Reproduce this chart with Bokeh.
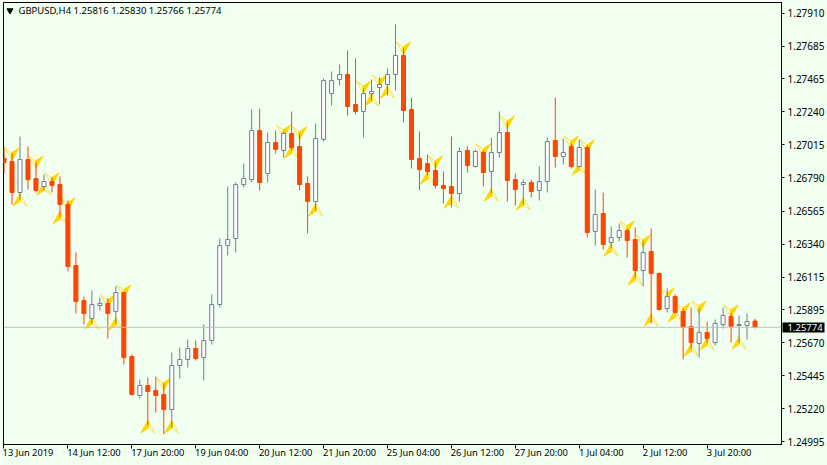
from bokeh.plotting import figure
from bokeh.models import Label, Span, FixedTicker, LinearAxis, ColumnDataSource, Range1d
from bokeh.embed import file_html
from bokeh.resources import INLINE

opens = [1.26922,1.26902,1.26691,1.26915,1.26786,1.26732,1.26766,1.26745,1.26609,1.26194,
 1.25956,1.25834,1.25922,1.25936,1.25881,1.26011,1.25575,1.25310,1.25378,1.25344,
 1.25317,1.25215,1.25514,1.25555,1.25630,1.25568,1.25684,1.25929,1.26330,1.26378,
 1.26745,1.26779,1.27113,1.26820,1.27031,1.26977,1.27092,1.27004,1.26752,1.26630,
 1.27052,1.27364,1.27460,1.27494,1.27290,1.27242,1.27364,1.27405,1.27426,1.27494,
 1.27623,1.27256,1.26922,1.26888,1.26841,1.26739,1.26732,1.26684,1.26977,1.26868,
 1.26963,1.26834,1.26963,1.27099,1.26779,1.26745,1.26759,1.26705,1.26766,1.27045,
 1.26936,1.27004,1.26868,1.26997,1.26426,1.26548,1.26351,1.26385,1.26432,1.26371,
 1.26160,1.26290,1.26140,1.25902,1.25983,1.25881,1.25779,1.25664,1.25739,1.25670,
 1.25793,1.25847,1.25786,1.25786,1.25816]
highs = [1.27004,1.26956,1.27072,1.27004,1.26895,1.26813,1.26793,1.26800,1.26637,1.26283,
 1.25983,1.26024,1.25977,1.25970,1.26052,1.26011,1.25589,1.25419,1.25432,1.25439,
 1.25392,1.25602,1.25636,1.25691,1.25684,1.25793,1.25997,1.26378,1.26732,1.26759,
 1.26888,1.27256,1.27262,1.27099,1.27113,1.27106,1.27242,1.27092,1.26800,1.27160,
 1.27467,1.27514,1.27562,1.27657,1.27603,1.27399,1.27460,1.27473,1.27535,1.27834,
 1.27671,1.27337,1.27106,1.26950,1.26895,1.26834,1.27072,1.26997,1.27004,1.26984,
 1.26977,1.27065,1.27242,1.27167,1.26820,1.26779,1.26779,1.26868,1.27065,1.27337,
 1.27058,1.27024,1.27052,1.27011,1.26711,1.26691,1.26460,1.26480,1.26446,1.26453,
 1.26364,1.26446,1.26147,1.26038,1.25997,1.25902,1.25909,1.25902,1.25813,1.25827,
 1.25909,1.25868,1.25854,1.25868,1.25830]
lows = [1.26820,1.26609,1.26643,1.26711,1.26691,1.26705,1.26691,1.26521,1.26154,1.25868,
 1.25793,1.25800,1.25888,1.25698,1.25800,1.25521,1.25310,1.25290,1.25106,1.25194,
 1.25045,1.25092,1.25426,1.25500,1.25548,1.25412,1.25657,1.25909,1.26262,1.26283,
 1.26725,1.26759,1.26705,1.26759,1.26956,1.26929,1.26977,1.26705,1.26412,1.26569,
 1.27038,1.27283,1.27419,1.27215,1.27222,1.27065,1.27317,1.27290,1.27351,1.27385,
 1.27167,1.26854,1.26705,1.26807,1.26718,1.26616,1.26589,1.26630,1.26827,1.26861,
 1.26732,1.26684,1.26929,1.26630,1.26602,1.26609,1.26657,1.26637,1.26691,1.26861,
 1.26881,1.26854,1.26861,1.26385,1.26330,1.26303,1.26310,1.26358,1.26249,1.26113,
 1.26052,1.25800,1.25888,1.25875,1.25868,1.25555,1.25630,1.25568,1.25670,1.25650,
 1.25766,1.25670,1.25670,1.25691,1.25766]
closes = [1.26895,1.26691,1.26915,1.26779,1.26705,1.26766,1.26739,1.26609,1.26188,1.25949,
 1.25868,1.25929,1.25936,1.25868,1.26011,1.25568,1.25317,1.25378,1.25337,1.25310,
 1.25215,1.25514,1.25555,1.25630,1.25562,1.25684,1.25929,1.26330,1.26371,1.26745,
 1.26786,1.27113,1.26759,1.27031,1.26984,1.27092,1.26997,1.26745,1.26630,1.27058,
 1.27453,1.27453,1.27494,1.27276,1.27242,1.27364,1.27378,1.27426,1.27494,1.27623,
 1.27249,1.26915,1.26847,1.26834,1.26739,1.26718,1.26684,1.26970,1.26875,1.26970,
 1.26827,1.26963,1.27099,1.26773,1.26711,1.26759,1.26698,1.26766,1.27038,1.26936,
 1.26963,1.26868,1.26997,1.26419,1.26541,1.26337,1.26385,1.26432,1.26364,1.26160,
 1.26283,1.26140,1.25895,1.25983,1.25875,1.25773,1.25670,1.25739,1.25698,1.25800,
 1.25854,1.25779,1.25793,1.25813,1.25774]

down_idx = [1,4,6,8,13,15,20,35,37,45,47,50,54,60,63,71,73,78,80,83,85,87,91]
down_tip = [1.26909,1.26854,1.26739,1.26569,1.25909,1.25977,1.25344,1.27065,1.27052,1.27364,
            1.27405,1.27630,1.26854,1.26936,1.27126,1.26990,1.26963,1.26412,1.26317,1.25956,
            1.25854,1.25868,1.25841]
up_idx = [2,5,7,11,14,18,21,36,39,46,48,53,56,61,65,72,76,79,81,84,86,88,92]
up_tip = [1.26684,1.26759,1.26562,1.25847,1.25841,1.25140,1.25140,1.27011,1.26616,1.27364,
          1.27419,1.26834,1.26671,1.26718,1.26657,1.26895,1.26344,1.26147,1.25868,1.25895,
          1.25664,1.25705,1.25711]

date_ticks = list(range(0, 96, 8))
date_labels = ["13 Jun 2019","14 Jun 12:00","17 Jun 20:00","19 Jun 04:00","20 Jun 12:00","21 Jun 20:00",
               "25 Jun 04:00","26 Jun 12:00","27 Jun 20:00","1 Jul 04:00","2 Jul 12:00","3 Jul 20:00"]
price_ticks = [1.27910,1.27685,1.27465,1.27240,1.27015,1.26790,1.26565,1.26340,1.26115,1.25895,1.25670,1.25445,1.25220,1.24995]
last_price = 1.25774
title = "GBPUSD,H4  1.25816 1.25830 1.25766 1.25774"

BG = "#F0FFF0"; RED = "#FF4500"; GREY = "#708090"; GOLD = "#FFD700"; FONT = "Noto Sans"
W, H, L_, R_, T_, B_ = 827, 465, 3, 782, 2, 444
PX_X = 8.0
PX_Y = 6.803e-5
x0 = -0.5 / PX_X
x_end = x0 + (R_ - L_) / PX_X
y_top = 1.24995 + (441.3 - T_) * PX_Y
y_bot = 1.24995 + (441.3 - B_) * PX_Y

p = figure(width=W, height=H, output_backend="svg", toolbar_location=None,
           x_range=Range1d(x0, x_end), y_range=Range1d(y_bot, y_top),
           y_axis_location=None, min_border_left=L_, min_border_right=W - R_,
           min_border_top=T_, min_border_bottom=H - B_,
           background_fill_color=BG, border_fill_color=BG, outline_line_color="black")
p.grid.visible = False

ax = p.xaxis[0]
ax.ticker = FixedTicker(ticks=date_ticks)
ax.major_label_overrides = {t: "" for t in date_ticks}
ax.major_label_standoff = 0
ax.major_tick_in = 0; ax.major_tick_out = 4
ax.minor_tick_line_color = None
ax.major_tick_line_color = "black"
ax.axis_line_color = "black"

# left-aligned date labels: a label-only axis whose ticks sit at each label's centre
label_px = [48 if s.endswith("2019") else 44 if "Jul" in s else 52 for s in date_labels]
label_ticks = [t + w / 2 / PX_X for t, w in zip(date_ticks, label_px)]
dax = LinearAxis(ticker=FixedTicker(ticks=label_ticks))
dax.major_label_overrides = dict(zip(label_ticks, date_labels))
dax.major_label_text_font = FONT
dax.major_label_text_font_size = "9.3px"
dax.major_label_text_color = "black"
dax.major_label_standoff = -3
dax.major_tick_line_color = None
dax.minor_tick_line_color = None
dax.axis_line_color = None
dax.major_tick_out = 0; dax.major_tick_in = 0
p.add_layout(dax, "below")

ry = LinearAxis(ticker=FixedTicker(ticks=price_ticks))
ry.major_label_overrides = {t: f"{t:.5f}" for t in price_ticks}
ry.major_label_text_font = FONT
ry.major_label_text_font_size = "10px"
ry.major_label_text_color = "black"
ry.major_label_standoff = 3
ry.major_tick_in = 0; ry.major_tick_out = 3
ry.minor_tick_line_color = None
ry.major_tick_line_color = "black"
ry.axis_line_color = "black"
p.add_layout(ry, "right")

# black tag with the last price: a one-tick axis stacked after the price axis, thick tick pointing inward
tag = LinearAxis(ticker=FixedTicker(ticks=[last_price]))
tag.major_label_overrides = {last_price: f"{last_price:.5f}"}
tag.major_label_text_font = FONT
tag.major_label_text_font_size = "9.5px"
tag.major_label_text_color = "white"
tag.major_tick_in = 45; tag.major_tick_out = -3
tag.major_tick_line_color = "black"; tag.major_tick_line_width = 10
tag.major_label_standoff = -40
tag.minor_tick_line_color = None
tag.axis_line_color = None
p.add_layout(tag, "right")

WX, HY, NY, NX = 7 / PX_X, 12.5 * PX_Y, 5 * PX_Y, 0.7 / PX_X
sol_x, sol_y, out_x, out_y = [], [], [], []
for i, t in zip(up_idx, up_tip):
    sol_x.append([i, i - WX, i + NX]); sol_y.append([t, t - HY, t - HY + NY])
    out_x.append([i, i + WX, i + NX]); out_y.append([t, t - HY, t - HY + NY])
for i, t in zip(down_idx, down_tip):
    sol_x.append([i, i + WX, i - NX]); sol_y.append([t, t + HY, t + HY - NY])
    out_x.append([i, i - WX, i - NX]); out_y.append([t, t + HY, t + HY - NY])
p.patches(out_x, out_y, fill_color=None, line_color=GOLD, line_width=1, line_alpha=0.7)
p.patches(sol_x, sol_y, fill_color=GOLD, line_color=GOLD, line_width=1)

p.add_layout(Span(location=last_price, dimension="width", line_color="#C0C0C0", line_width=1))

idx = list(range(len(opens)))
up = [i for i in idx if closes[i] >= opens[i]]
dn = [i for i in idx if closes[i] < opens[i]]
su = ColumnDataSource(dict(x=up, h=[highs[i] for i in up], l=[lows[i] for i in up],
                           o=[opens[i] for i in up], c=[closes[i] for i in up]))
sd = ColumnDataSource(dict(x=dn, h=[highs[i] for i in dn], l=[lows[i] for i in dn],
                           o=[opens[i] for i in dn], c=[closes[i] for i in dn]))
BW = 4 / PX_X
p.segment("x", "h", "x", "l", source=su, line_color=GREY, line_width=1)
p.vbar("x", BW, "o", "c", source=su, fill_color="white", line_color=GREY, line_width=1)
p.segment("x", "h", "x", "l", source=sd, line_color=RED, line_width=1)
p.vbar("x", BW, "o", "c", source=sd, fill_color=RED, line_color=RED, line_width=1)

p.add_layout(Label(x=15, y=434, x_units="screen", y_units="screen", text=title,
                   text_font=FONT, text_font_size="9.5px", text_color="black", text_baseline="middle"))
p.scatter([0.75], [y_top - 8 * PX_Y], marker="inverted_triangle", size=6, color="black")

open("out.html", "w").write(file_html(p, INLINE))
